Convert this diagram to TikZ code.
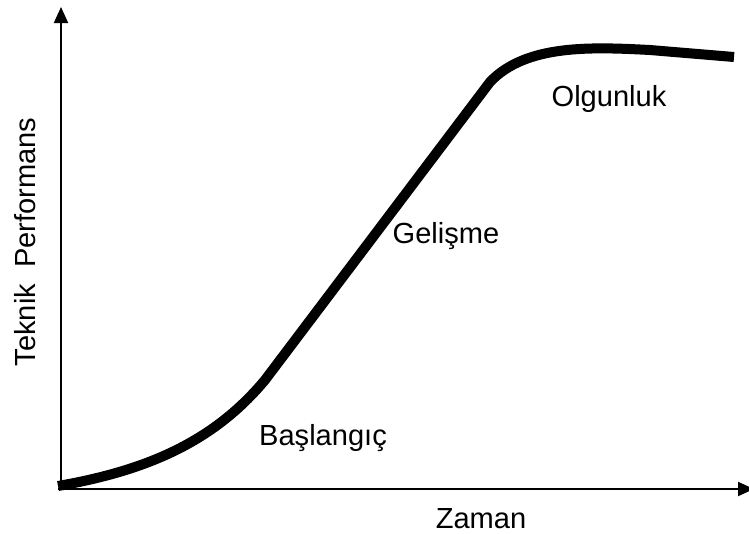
\documentclass[tikz,border=0pt]{standalone}
\usepackage{fontspec}
\setmainfont{Liberation Sans}
\usetikzlibrary{arrows.meta}
\begin{document}
\begin{tikzpicture}[
  x=0.75pt, y=-0.75pt,
  font=\fontsize{21.8}{26}\selectfont,
  axis/.style={line width=1.5pt, -{Triangle[length=12pt, width=10.5pt]}},
  scurve/.style={line width=7.5pt, line join=round},
  lbl/.style={inner sep=0pt}
]
\useasboundingbox (0,0) rectangle (749,533);
\clip (0,0) rectangle (749,533);
% axes
\coordinate (origin) at (61,489);
\coordinate (ytop) at (61,7);
\coordinate (xend) at (754,489);
\draw[axis] (origin) -- (ytop);
\draw[axis] (58,489) -- (xend);
% s-curve
\coordinate (start) at (58,486);
\coordinate (knee) at (265,380);
\coordinate (bend) at (490,82);
\coordinate (flat) at (650,50);
\coordinate (stop) at (734,57);
\draw[scurve] (start) .. controls (150,470) and (215,440) .. (knee) -- (bend)
  .. controls (526,44) and (592,47) .. (flat) -- (stop);
% labels
\node[lbl] (start-lbl) at (323,438) {Başlangıç};
\node[lbl] (grow-lbl) at (446,236) {Gelişme};
\node[lbl] (mature-lbl) at (609,99) {Olgunluk};
\node[lbl] (xlabel) at (481,519) {Zaman};
\node[lbl, rotate=90] (ylabel) at (25,242) {Teknik\ \ Performans};
\end{tikzpicture}
\end{document}
